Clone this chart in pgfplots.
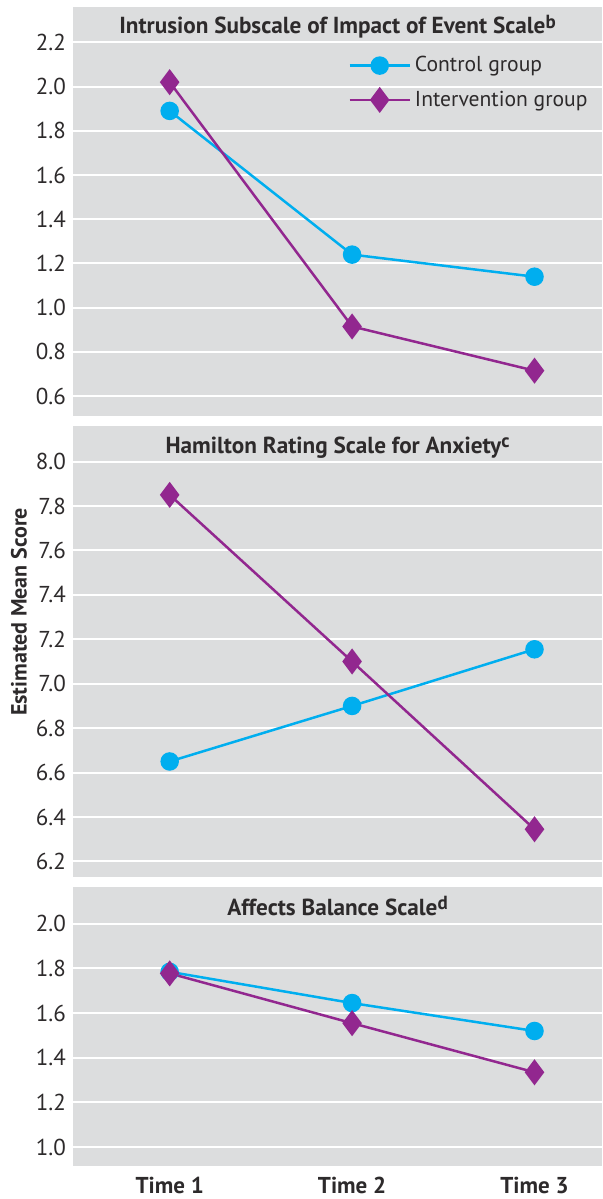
\documentclass[border=0pt]{standalone}
\usepackage{fontspec}
\setmainfont{PT Sans}
\usepackage{pgfplots}
\pgfplotsset{compat=1.18}
\definecolor{ctrl}{RGB}{0,174,239}
\definecolor{intv}{RGB}{146,39,143}
\definecolor{bg}{RGB}{220,221,222}
\definecolor{txt}{RGB}{45,42,43}
\newcommand{\mysup}[1]{\raisebox{0.45ex}{\fontsize{9.5}{10}\selectfont #1}}
\tikzset{ttl/.style={font=\fontsize{11.6}{13}\selectfont\bfseries, text=txt}}
\pgfplotsset{
  panel/.style={
    width=264.5pt, scale only axis, xmin=0.47, xmax=3.37,
    axis background/.style={fill=bg}, axis line style={draw=none},
    ymajorgrids, grid style={white, line width=1pt},
    major tick length=0pt, xtick=\empty,
    yticklabel style={font=\fontsize{11.5}{13}\selectfont, text=txt},
    /pgf/number format/fixed, /pgf/number format/fixed zerofill,
    /pgf/number format/precision=1, /pgf/number format/assume math mode=true,
    clip=false,
  },
  ctrlS/.style={color=ctrl, line width=1.25pt, mark=*, mark size=4pt, mark options={solid}},
  intvS/.style={color=intv, line width=1.25pt, mark=diamond*, mark size=5.5pt, mark options={solid}},
}
\begin{document}
\begin{tikzpicture}
\useasboundingbox (0,0) rectangle (301pt,-599.5pt);
% Panel 1
\begin{axis}[panel, at={(36.5pt,-3.5pt)}, anchor=north west, height=204.5pt,
  ymin=0.51, ymax=2.36, ytick={0.6,0.8,...,2.21},
  legend style={draw=none, fill=none, at={(0.52,0.89)}, anchor=north west,
    font=\fontsize{10.8}{13}\selectfont, text=txt, row sep=4pt, inner sep=0pt},
  legend cell align=left,
  legend image code/.code={\draw[mark repeat=2,mark phase=2,#1] plot coordinates {(0pt,0pt) (15pt,0pt) (30pt,0pt)};}]
\addplot[ctrlS] coordinates {(1,1.89) (2,1.24) (3,1.14)};
\addlegendentry{Control group}
\addplot[intvS] coordinates {(1,2.02) (2,0.915) (3,0.715)};
\addlegendentry{Intervention group}
\node[ttl] at (axis description cs:0.5,0.951) {Intrusion Subscale of Impact of Event Scale\mysup{b}};
\end{axis}
% Panel 2
\begin{axis}[panel, at={(36.5pt,-213pt)}, anchor=north west, height=225.5pt,
  ymin=6.13, ymax=8.16, ytick={6.2,6.4,...,8.01}]
\addplot[ctrlS] coordinates {(1,6.65) (2,6.90) (3,7.155)};
\addplot[intvS] coordinates {(1,7.85) (2,7.10) (3,6.345)};
\node[ttl] at (axis description cs:0.5,0.953) {Hamilton Rating Scale for Anxiety\mysup{c}};
\end{axis}
% Panel 3
\begin{axis}[panel, at={(36.5pt,-443.5pt)}, anchor=north west, height=139.5pt,
  ymin=0.915, ymax=2.165, ytick={1.0,1.2,...,2.01},
  xtick={1,2,3}, xticklabels={Time 1,Time 2,Time 3},
  xticklabel style={font=\fontsize{11.5}{13}\selectfont\bfseries, text=txt, yshift=-2pt}]
\addplot[ctrlS] coordinates {(1,1.785) (2,1.645) (3,1.52)};
\addplot[intvS] coordinates {(1,1.778) (2,1.555) (3,1.335)};
\node[ttl] at (axis description cs:0.5,0.932) {Affects Balance Scale\mysup{d}};
\end{axis}
\node[rotate=90, font=\fontsize{11}{13}\selectfont\bfseries, text=txt] at (9.5pt,-306pt) {Estimated Mean Score};
\end{tikzpicture}
\end{document}
